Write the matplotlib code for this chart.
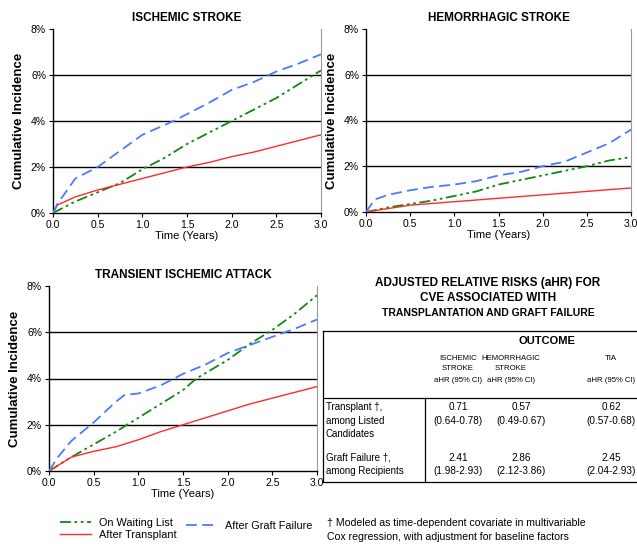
import matplotlib
matplotlib.use("Agg")
import matplotlib.pyplot as plt
from matplotlib.lines import Line2D
from matplotlib.ticker import FuncFormatter

plt.rcParams['font.family'] = ['Liberation Sans', 'DejaVu Sans']

W, H = 637, 544

# ---------------- data ----------------
# Ischemic stroke
isch_t_wait = [0.0, 0.1, 0.25, 0.5, 0.75, 1.0, 1.25, 1.5, 1.75, 2.0, 2.25, 2.5, 2.75, 3.0]
isch_wait = [0.0, 0.2, 0.5, 0.9, 1.3, 1.9, 2.4, 3.0, 3.5, 4.0, 4.5, 5.0, 5.6, 6.2]
isch_t_tx = [0.0, 0.05, 0.25, 0.5, 0.75, 1.0, 1.25, 1.5, 1.75, 2.0, 2.25, 2.5, 2.75, 3.0]
isch_tx = [0.0, 0.35, 0.7, 1.0, 1.25, 1.5, 1.75, 2.0, 2.2, 2.45, 2.65, 2.9, 3.15, 3.4]
isch_t_gf = [0.0, 0.05, 0.25, 0.5, 0.75, 1.0, 1.35, 1.5, 1.75, 2.0, 2.25, 2.5, 2.75, 3.0]
isch_gf = [0.0, 0.4, 1.5, 2.0, 2.7, 3.4, 4.0, 4.3, 4.8, 5.35, 5.7, 6.15, 6.5, 6.9]

# Hemorrhagic stroke
hem_t_wait = [0.0, 0.25, 0.5, 0.75, 1.0, 1.25, 1.5, 1.75, 2.0, 2.25, 2.5, 2.75, 3.0]
hem_wait = [0.0, 0.2, 0.35, 0.5, 0.7, 0.9, 1.2, 1.4, 1.6, 1.8, 2.0, 2.25, 2.4]
hem_t_tx = [0.0, 0.25, 0.5, 1.0, 1.5, 2.0, 2.5, 3.0]
hem_tx = [0.0, 0.15, 0.3, 0.45, 0.6, 0.75, 0.9, 1.05]
hem_t_gf = [0.0, 0.1, 0.25, 0.5, 0.75, 1.0, 1.25, 1.5, 1.75, 2.0, 2.25, 2.5, 2.75, 3.0]
hem_gf = [0.0, 0.55, 0.75, 0.95, 1.1, 1.2, 1.35, 1.6, 1.75, 2.0, 2.2, 2.6, 3.0, 3.6]

# Transient ischemic attack
tia_t_wait = [0.0, 0.25, 0.5, 0.75, 1.0, 1.25, 1.5, 1.65, 2.0, 2.25, 2.5, 2.75, 3.0]
tia_wait = [0.0, 0.6, 1.15, 1.7, 2.3, 2.9, 3.5, 4.0, 4.8, 5.5, 6.1, 6.8, 7.6]
tia_t_tx = [0.0, 0.25, 0.5, 0.75, 1.0, 1.25, 1.5, 1.75, 2.0, 2.25, 2.5, 2.75, 3.0]
tia_tx = [0.0, 0.6, 0.85, 1.05, 1.35, 1.7, 2.0, 2.3, 2.6, 2.9, 3.15, 3.4, 3.65]
tia_t_gf = [0.0, 0.1, 0.25, 0.5, 0.75, 0.85, 1.0, 1.25, 1.5, 1.75, 2.0, 2.25, 2.5, 2.75, 3.0]
tia_gf = [0.0, 0.6, 1.3, 2.1, 3.0, 3.3, 3.35, 3.7, 4.2, 4.6, 5.1, 5.45, 5.8, 6.15, 6.55]

titles = ["ISCHEMIC STROKE", "HEMORRHAGIC STROKE", "TRANSIENT ISCHEMIC ATTACK"]
series_labels = ["On Waiting List", "After Transplant", "After Graft Failure"]
x_ticks = [0.0, 0.5, 1.0, 1.5, 2.0, 2.5, 3.0]
y_ticks = [0, 2, 4, 6, 8]

# table data
table_title = ["ADJUSTED RELATIVE RISKS (aHR) FOR", "CVE ASSOCIATED WITH",
               "TRANSPLANTATION AND GRAFT FAILURE"]
col_heads = [["ISCHEMIC", "STROKE", "aHR (95% CI)"],
             ["HEMORRHAGIC", "STROKE", "aHR (95% CI)"],
             ["TIA", "", "aHR (95% CI)"]]
row_heads = [["Transplant \u2020,", "among Listed", "Candidates"],
             ["Graft Failure \u2020,", "among Recipients"]]
ahr_tx = ["0.71", "0.57", "0.62"]
ci_tx = ["(0.64-0.78)", "(0.49-0.67)", "(0.57-0.68)"]
ahr_gf = ["2.41", "2.86", "2.45"]
ci_gf = ["(1.98-2.93)", "(2.12-3.86)", "(2.04-2.93)"]
footnote = ["\u2020 Modeled as time-dependent covariate in multivariable",
            "Cox regression, with adjustment for baseline factors"]

GREEN = "#118811"
RED = "#ff2a2a"
BLUE = "#4f78ff"
ls_wait = (0, (6, 2, 1.5, 2, 1.5, 2))
ls_gf = (0, (6, 3))

fig = plt.figure(figsize=(W / 100, H / 100), dpi=100)


def fx(px):
    return px / W


def fy(py):
    return 1 - py / H


def make_ax(l, t, r, b):
    return fig.add_axes([fx(l), fy(b), fx(r) - fx(l), fy(t) - fy(b)])


axes = [make_ax(53, 29, 321, 213), make_ax(366, 29, 631, 212), make_ax(49, 286, 317, 471)]
data = [
    (isch_t_wait, isch_wait, isch_t_tx, isch_tx, isch_t_gf, isch_gf),
    (hem_t_wait, hem_wait, hem_t_tx, hem_tx, hem_t_gf, hem_gf),
    (tia_t_wait, tia_wait, tia_t_tx, tia_tx, tia_t_gf, tia_gf),
]

handles = None
for ax, d, title in zip(axes, data, titles):
    for yv in [2, 4, 6]:
        ax.axhline(yv, color="black", lw=1.0, zorder=1)
    hw, = ax.plot(d[0], d[1], color=GREEN, lw=1.3, linestyle=ls_wait, zorder=3)
    ht, = ax.plot(d[2], d[3], color=RED, lw=1.0, zorder=3)
    hg, = ax.plot(d[4], d[5], color=BLUE, lw=1.3, linestyle=ls_gf, zorder=3)
    handles = (hw, ht, hg)
    ax.set_xlim(0, 3.0)
    ax.set_ylim(0, 8)
    ax.set_xticks(x_ticks)
    ax.set_yticks(y_ticks)
    ax.xaxis.set_major_formatter(FuncFormatter(lambda v, p: f"{v:.1f}"))
    ax.yaxis.set_major_formatter(FuncFormatter(lambda v, p: f"{v:.0f}%"))
    ax.tick_params(labelsize=7.5, length=3, width=0.8, direction="out", pad=2)
    for s in ["left", "bottom"]:
        ax.spines[s].set_color("black")
        ax.spines[s].set_linewidth(1.0)
    ax.spines["top"].set_visible(False)
    ax.spines["right"].set_color("#999999")
    ax.spines["right"].set_linewidth(0.8)
    ax.set_xlabel("Time (Years)", fontsize=8, labelpad=1)
    ax.set_ylabel("Cumulative Incidence", fontsize=9.5, fontweight="bold", labelpad=4)
    ax.set_title(title, fontsize=8.5, fontweight="bold", pad=6)

# legend
fig.legend([handles[0], handles[1]], series_labels[:2], loc="center left",
           bbox_to_anchor=(fx(55), fy(529)), frameon=False, fontsize=7.8,
           handlelength=2.8, handletextpad=0.8, labelspacing=0.15, borderpad=0)
fig.legend([handles[2]], series_labels[2:], loc="center left",
           bbox_to_anchor=(fx(181), fy(526)), frameon=False, fontsize=7.8,
           handlelength=2.8, handletextpad=0.8, borderpad=0)

# table title
for txt, py, fs in zip(table_title, [283, 298, 313], [8.5, 8.5, 7.5]):
    fig.text(fx(488), fy(py), txt, ha="center", va="center", fontsize=fs, fontweight="bold")

# table frame
lkw = dict(color="black", lw=0.9)
fig.add_artist(Line2D([fx(323), fx(640)], [fy(331), fy(331)], **lkw))
fig.add_artist(Line2D([fx(323), fx(640)], [fy(398), fy(398)], **lkw))
fig.add_artist(Line2D([fx(323), fx(640)], [fy(482), fy(482)], **lkw))
fig.add_artist(Line2D([fx(323), fx(323)], [fy(331), fy(482)], **lkw))
fig.add_artist(Line2D([fx(425), fx(425)], [fy(398), fy(482)], **lkw))

fig.text(fx(547), fy(341), "OUTCOME", ha="center", va="center", fontsize=8, fontweight="bold")
head_x = [458, 511, 611]
for cx, lines in zip(head_x, col_heads):
    for txt, py in zip(lines, [358, 369, 381]):
        fig.text(fx(cx), fy(py), txt, ha="center", va="center", fontsize=5.6)

for lines, pys in zip(row_heads, [[407, 421, 434], [458, 471]]):
    for txt, py in zip(lines, pys):
        fig.text(fx(326), fy(py), txt, ha="left", va="center", fontsize=7)

val_x = [458, 521, 611]
for cx, a, c in zip(val_x, ahr_tx, ci_tx):
    fig.text(fx(cx), fy(407), a, ha="center", va="center", fontsize=7.2)
    fig.text(fx(cx), fy(421), c, ha="center", va="center", fontsize=7.2)
for cx, a, c in zip(val_x, ahr_gf, ci_gf):
    fig.text(fx(cx), fy(458), a, ha="center", va="center", fontsize=7.2)
    fig.text(fx(cx), fy(471), c, ha="center", va="center", fontsize=7.2)

for txt, py in zip(footnote, [523, 537]):
    fig.text(fx(327), fy(py), txt, ha="left", va="center", fontsize=7.6)

fig.savefig("out.png", dpi=100)
